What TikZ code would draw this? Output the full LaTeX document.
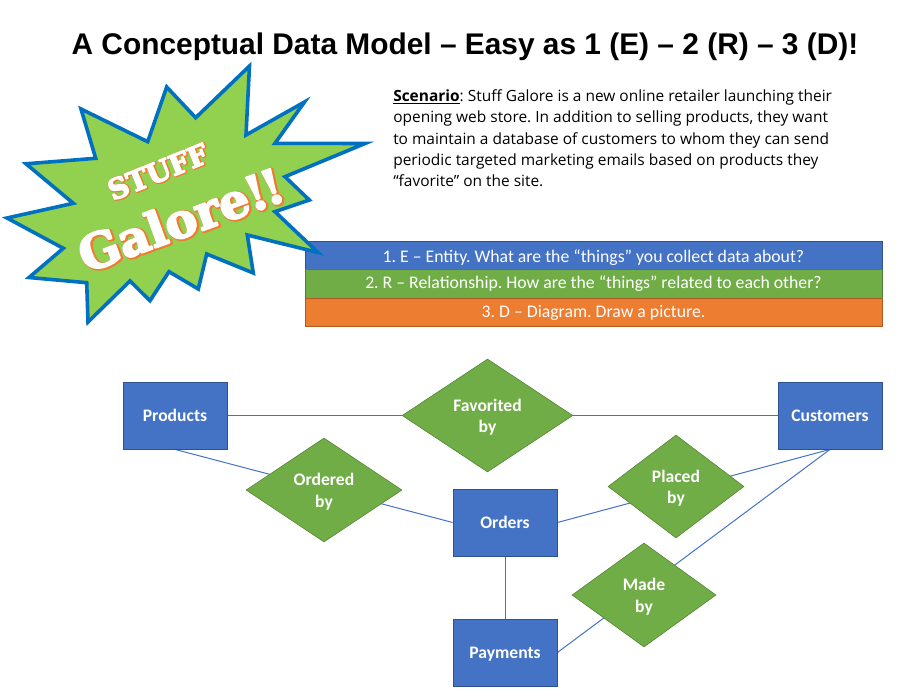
\documentclass[tikz,border=0pt]{standalone}
\usepackage{fontspec}
\usetikzlibrary{shapes.geometric,backgrounds}
\setmainfont{Carlito}
\newfontfamily\titlefont{Liberation Sans}
\newfontfamily\bodyfont{Open Sans}
\newfontfamily\popfont{DejaVu Serif}
\definecolor{blueA}{HTML}{4472C4}
\definecolor{blueB}{HTML}{2F528F}
\definecolor{greenA}{HTML}{70AD47}
\definecolor{greenB}{HTML}{507E32}
\definecolor{orangeA}{HTML}{ED7D31}
\definecolor{orangeB}{HTML}{AE5A21}
\definecolor{starfill}{HTML}{92D050}
\definecolor{starline}{HTML}{0070C0}
% #1 white stroke, #2 orange stroke, #3 text, #4 shadow offset
\newcommand{\outlined}[4]{\leavevmode\rlap{\raisebox{-#4}{\kern#4\special{pdf:code q 2 Tr #2 w 0.93 0.49 0.19 RG 0.93 0.49 0.19 rg 1 j}#3\special{pdf:code Q}}}\special{pdf:code q 2 Tr #1 w 1 1 1 RG 1 1 1 rg 1 j}#3\special{pdf:code Q}}
\newcommand{\boxlabel}[1]{\raisebox{-4.4pt}[0pt][0pt]{#1}}
\newcommand{\toplift}{\rule{0pt}{11.8pt}}
\frenchspacing
\tikzset{
  x=0.75pt,y=-0.75pt,
  barbox/.style={draw,line width=0.6pt,minimum width=432.75pt,minimum height=21.2pt,inner sep=0pt,text=white,font=\fontsize{13.3}{15}\selectfont},
  entity/.style={draw=blueB,fill=blueA,line width=0.6pt,minimum width=78pt,minimum height=50.25pt,inner sep=0pt,text=white,font=\fontsize{13.2}{16}\selectfont\bfseries},
  rel/.style={diamond,draw=greenB,fill=greenA,line width=0.4pt,inner sep=0pt,align=center,text=white,font=\fontsize{13.2}{16}\selectfont\bfseries},
  link/.style={draw=blueA,line width=0.75pt}
}
\begin{document}
\begin{tikzpicture}
\useasboundingbox (0,0) rectangle (906,699);
\node[font=\titlefont\bfseries\fontsize{22.4}{26}\selectfont,inner sep=0pt] (title) at (465,47) {A Conceptual Data Model – Easy as 1 (E) – 2 (R) – 3 (D)!};
\node[anchor=north west,inner sep=0pt,align=left,font=\bodyfont\fontsize{11.6}{16}\selectfont] (scenario) at (393,89.5) {\underline{\textbf{Scenario}}: Stuff Galore is a new online retailer launching their\\opening web store. In addition to selling products, they want\\to maintain a database of customers to whom they can send\\periodic targeted marketing emails based on products they\\“favorite” on the site.};
\node[barbox,draw=blueB,fill=blueA,text depth=0pt] (bar1) at (593.5,255.5) {\raisebox{-1.4pt}{1. E – Entity. What are the “things” you collect data about?}};
\node[barbox,draw=greenB,fill=greenA] (bar2) at (593.5,284) {\raisebox{-1.4pt}{2. R – Relationship. How are the “things” related to each other?}};
\node[barbox,draw=orangeB,fill=orangeA] (bar3) at (593.5,312.5) {\raisebox{-1.4pt}{3. D – Diagram. Draw a picture.}};
\node[entity] (products) at (175,415.5) {\boxlabel{Products}};
\node[entity] (customers) at (830,415.5) {\boxlabel{Customers}};
\node[entity] (orders) at (505,522.5) {\boxlabel{Orders}};
\node[entity] (payments) at (505,652.5) {\boxlabel{Payments}};
\node[rel,minimum width=128pt,minimum height=84.75pt] (favorited) at (487.5,415.5) {\toplift Favorited\\by};
\node[rel,minimum width=117pt,minimum height=78pt] (ordered) at (324,490) {\toplift Ordered\\by};
\node[rel,minimum width=102pt,minimum height=77.25pt] (placed) at (676,486.5) {\toplift Placed\\by};
\node[rel,minimum width=108pt,minimum height=78pt] (made) at (644,595) {\toplift Made\\by};
\begin{pgfonlayer}{background}
\draw[link] (products.east) -- (customers.west);
\draw[link] (products.south) -- (orders.west);
\draw[link] (orders.east) -- (customers.south);
\draw[link] (payments.east) -- (customers.south);
\draw[link] (orders.south) -- (payments.north);
\end{pgfonlayer}
\draw[draw=starline,fill=starfill,line width=2.7pt,miter limit=10] (249.5,66)--(195.7,117.7)--(166.7,87)--(147.7,141.7)--(81,109)--(95.7,158.3)--(26,163.8)--(73.3,203.3)--(7,218)--(63.3,248.3)--(29,277.5)--(86.7,282.7)--(88,322)--(130,281)--(150,300.7)--(169,271.7)--(198.3,289)--(206.7,254)--(253.3,273)--(247.3,235)--(318,252.5)--(275,211.7)--(309.3,200)--(285,176.7)--(365,143.5)--(275,143.3)--(304.5,102)--(246,135)--cycle;
\node[rotate=22,inner sep=0pt,text=white,font=\popfont\bfseries\fontsize{21}{22}\selectfont] (stuff) at (158,172) {\outlined{1.0}{2.2}{STUFF}{0.5pt}};
\node[rotate=20,inner sep=0pt,text=white,font=\popfont\bfseries\fontsize{36}{38}\selectfont] (galore) at (181,220) {\outlined{1.4}{3.0}{Galore\kern-1pt!\kern-3pt!}{0.8pt}};
\end{tikzpicture}
\end{document}
